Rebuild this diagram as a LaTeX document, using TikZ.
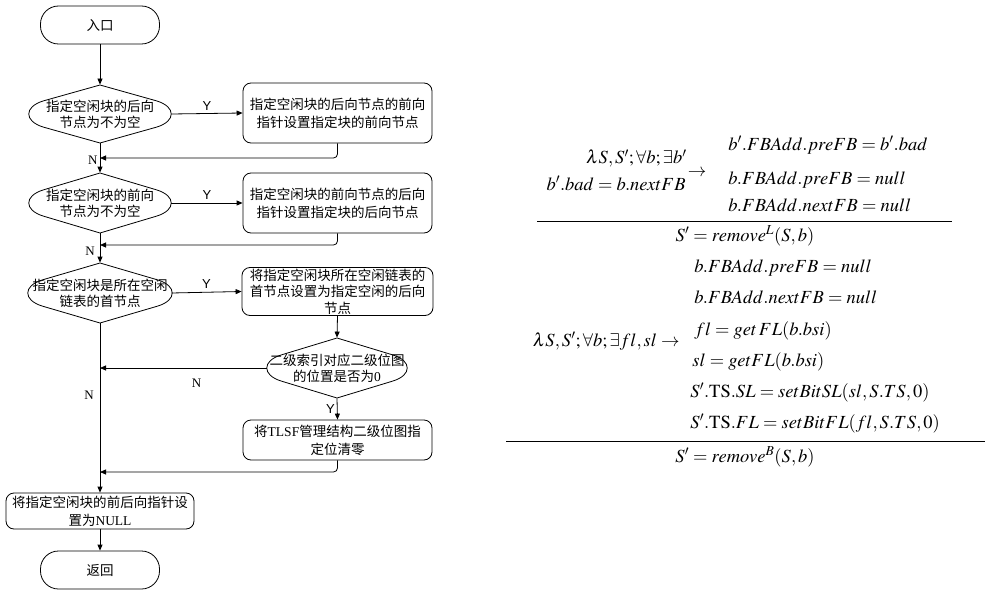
\documentclass[tikz,border=0pt]{standalone}
\usepackage{mathptmx}
\usepackage[no-math]{fontspec}
\setmainfont{Liberation Serif}
\newfontfamily\cjk{Noto Sans CJK SC}
\newfontfamily\lsans{Liberation Sans}
\usetikzlibrary{arrows.meta,calc}
\newcommand\mydec[3]{%
  \draw[shift={(#1.center)}] (0,-#3) -- (#2-14,-13) .. controls (#2+5,-7) and (#2+5,7) .. (#2-14,13)
    -- (0,#3) -- (-#2+14,13) .. controls (-#2-5,7) and (-#2-5,-7) .. (-#2+14,-13) -- cycle;}
\tikzset{
  box/.style={draw, rounded corners=8pt, minimum width=189pt, inner sep=2pt, align=center,
    font=\cjk\fontsize{13.5}{18}\selectfont},
  dec/.style={inner sep=0, minimum width=142pt, minimum height=60pt, align=center,
    font=\cjk\fontsize{13.5}{16}\selectfont},
  term/.style={draw, rounded corners=18pt, minimum width=119pt, minimum height=38pt, inner sep=0,
    font=\cjk\fontsize{13.5}{16}\selectfont},
  arr/.style={-{Triangle[length=6pt,width=5pt]}},
  lab/.style={font=\lsans\fontsize{13}{13}\selectfont, inner sep=1pt},
  nlab/.style={font=\rmfamily\fontsize{13}{13}\selectfont, inner sep=1pt},
  frm/.style={inner sep=0, font=\fontsize{18.5}{22}\selectfont, text height=13pt, text depth=5pt}
}
\begin{document}
\begin{tikzpicture}[x=1pt,y=-1pt,line width=0.8pt]
\useasboundingbox (0,0) rectangle (985,591);
% flowchart
\node[term] (s) at (100,25) {入口};
\node[dec, minimum height=58pt] (d1) at (100,114) {指定空闲块的后向\\节点为不为空};
\mydec{d1}{71}{29}
\node[box, minimum height=60pt] (b1) at (337.5,113) {指定空闲块的后向节点的前向\\指针设置指定块的前向节点};
\node[dec] (d2) at (100,203) {指定空闲块的前向\\节点为不为空};
\mydec{d2}{71}{30}
\node[box, minimum height=60pt] (b2) at (337.5,203) {指定空闲块的前向节点的后向\\指针设置指定块的后向节点};
\node[dec] (d3) at (100,293) {指定空闲块是所在空闲\\链表的首节点};
\mydec{d3}{72}{30}
\node[box, minimum height=48pt, minimum width=191pt, inner sep=0, font=\cjk\fontsize{13.5}{16.5}\selectfont] (b3) at (337.5,291.5) {将指定空闲块所在空闲链表的\\首节点设置为指定空闲的后向\\节点};
\node[dec, minimum width=140pt] (d4) at (337,368) {二级索引对应二级位图\\的位置是否为{\rmfamily 0}};
\mydec{d4}{70}{30}
\node[box, minimum height=40pt] (b4) at (337.5,440) {将{\rmfamily TLSF}管理结构二级位图指\\定位清零};
\node[box, minimum width=188pt, minimum height=36pt] (b5) at (100,511) {将指定空闲块的前后向指针设\\置为{\rmfamily NULL}};
\node[term] (e) at (100,570) {返回};
% connectors
\draw[arr] (s.south) -- (d1.north);
\draw[arr] (d1.east) -- node[lab, above=2pt] {Y} (b1.west);
\coordinate (j1) at (100,158);
\draw[arr, rounded corners=4pt] (b1.south) |- (j1);
\draw[arr] (d1.south) -- (d2.north);
\node[nlab, anchor=east] at ([xshift=-1pt,yshift=-2pt]j1) {N};
\draw[arr] (d2.east) -- node[lab, above=2pt] {Y} (b2.west);
\coordinate (j2) at (100,245);
\draw[arr, rounded corners=4pt] (b2.south) |- (j2);
\draw[arr] (d2.south) -- (d3.north);
\node[nlab] at (90,251) {N};
\draw[arr] (d3.east) -- node[lab, above=2pt] {Y} (b3.west);
\draw[arr] (b3.south) -- (d4.north);
\coordinate (j3) at (100,368);
\draw[arr] (d4.west) -- node[nlab, below=10pt, pos=0.42] {N} (j3);
\draw[arr] (d4.south) -- node[lab, left=1pt] {Y} (b4.north);
\coordinate (j4) at (100,472);
\draw[arr, rounded corners=4pt] (b4.south) |- (j4);
\draw[arr] (d3.south) -- (b5.north);
\node[nlab] at (89,395) {N};
\draw[arr] (b5.south) -- (e.north);
% formula 1
\node[frm, anchor=west] (r11) at (728,146) {$b'.FBAdd.preFB = b'.bad$};
\node[frm, anchor=west] (r12) at (728,180) {$b.FBAdd.preFB = null$};
\node[frm, anchor=west] (r13) at (728,207) {$b.FBAdd.nextFB = null$};
\node[frm, anchor=east] (l11) at (687,160) {$\lambda S,S';\forall b;\exists b'$};
\node[frm, anchor=east] (l12) at (686,186) {$b'.bad = b.nextFB$};
\node[frm] (a1) at (697,172) {$\rightarrow$};
\coordinate (f1a) at (537,221);
\coordinate (f1b) at (952,221);
\draw[line width=0.9pt] (f1a) -- (f1b);
\node[frm] (den1) at (745,237) {$S' = remove^{L}(S,b)$};
% formula 2
\node[frm, anchor=west] (r21) at (694,268) {$b.FBAdd.preFB = null$};
\node[frm, anchor=west] (r22) at (694,299) {$b.FBAdd.nextFB = null$};
\node[frm, anchor=west] (r23) at (694,331) {$fl = get\,FL(b.bsi)$};
\node[frm, anchor=west] (r24) at (692,362) {$sl = getFL(b.bsi)$};
\node[frm, anchor=west] (r25) at (690,393) {$S'.\mathrm{TS}.SL = setBitSL(sl,S.TS,0)$};
\node[frm, anchor=west] (r26) at (690,424) {$S'.\mathrm{TS}.FL = setBitFL(fl,S.TS,0)$};
\node[frm, anchor=east] (l21) at (680,342) {$\lambda S,S';\forall b;\exists fl,sl \rightarrow$};
\coordinate (f2a) at (506,441);
\coordinate (f2b) at (985,441);
\draw[line width=0.9pt] (f2a) -- (f2b);
\node[frm] (den2) at (745,458) {$S' = remove^{B}(S,b)$};
\end{tikzpicture}
\end{document}
